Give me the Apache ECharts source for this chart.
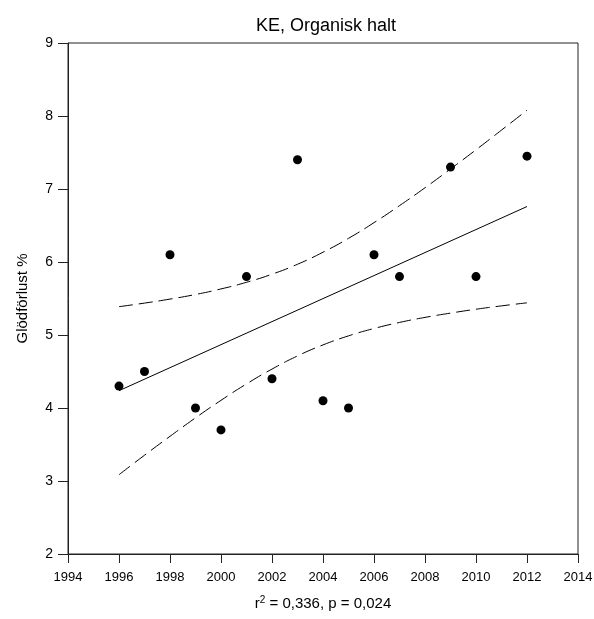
<!DOCTYPE html>
<html>
<head>
<meta charset="utf-8">
<script src="https://cdn.jsdelivr.net/npm/echarts@6/dist/echarts.min.js"></script>
<style>
  html, body { margin: 0; padding: 0; background: #fff; }
  #chart { width: 594px; height: 619px; }
</style>
</head>
<body>
<div id="chart"></div>
<script>
// Observations: loss on ignition (%) per sampling year
const years = [1996, 1997, 1998, 1999, 2000, 2001, 2002, 2003, 2004, 2005, 2006, 2007, 2009, 2010, 2012];
const values = [4.3, 4.5, 6.1, 4.0, 3.7, 5.8, 4.4, 7.4, 4.1, 4.0, 6.1, 5.8, 7.3, 5.8, 7.45];

// Linear trend end points
const fitYears = [1996, 2012];
const fitValues = [4.237, 6.760];

// 95 % confidence band of the trend
const bandYears = [1996, 1997, 1998, 1999, 2000, 2001, 2002, 2003, 2004, 2005, 2006, 2007, 2008, 2009, 2010, 2011, 2012];
const bandUpper = [5.388, 5.437, 5.492, 5.555, 5.631, 5.722, 5.833, 5.969, 6.134, 6.324, 6.539, 6.772, 7.017, 7.274, 7.537, 7.807, 8.079];
const bandLower = [3.086, 3.353, 3.612, 3.865, 4.105, 4.330, 4.533, 4.713, 4.864, 4.988, 5.089, 5.172, 5.241, 5.300, 5.353, 5.399, 5.441];

const titleText = 'KE, Organisk halt';
const yName = 'Glödförlust %';
const r2 = '0,336';
const pValue = '0,024';

const zip = (xs, ys) => xs.map((x, i) => [x, ys[i]]);
const font = 'Liberation Sans, Arial, sans-serif';
const ink = '#000';

const chart = echarts.init(document.getElementById('chart'), null, { renderer: 'canvas' });
chart.setOption({
  animation: false,
  backgroundColor: '#fff',
  title: {
    text: titleText,
    left: 321, top: 12, textAlign: 'center',
    textStyle: { fontFamily: font, fontSize: 18, fontWeight: 'normal', color: ink }
  },
  grid: {
    left: 68, right: 16, top: 43, bottom: 65,
    containLabel: false, outerBoundsMode: 'none',
    show: true, borderColor: '#222', borderWidth: 1, backgroundColor: 'transparent'
  },
  xAxis: {
    type: 'value', min: 1994, max: 2014, interval: 2,
    name: '{t|r}{s|2}{t| = ' + r2 + ', p = ' + pValue + '}',
    nameLocation: 'middle', nameGap: 41,
    nameTextStyle: {
      rich: {
        t: { fontFamily: font, fontSize: 15, color: ink },
        s: { fontFamily: font, fontSize: 10, color: ink, verticalAlign: 'top', padding: [0, 0, 8, 0] }
      }
    },
    splitLine: { show: false },
    axisLine: { lineStyle: { color: '#222', width: 1 } },
    axisTick: { inside: false, length: 9, lineStyle: { color: '#222' } },
    axisLabel: { fontFamily: font, fontSize: 13, color: ink, margin: 17, formatter: v => String(v) }
  },
  yAxis: {
    type: 'value', min: 2, max: 9, interval: 1,
    name: yName, nameLocation: 'middle', nameGap: 38, nameRotate: 90,
    nameTextStyle: { fontFamily: font, fontSize: 15, color: ink },
    splitLine: { show: false },
    axisLine: { lineStyle: { color: '#222', width: 1 } },
    axisTick: { inside: false, length: 10, lineStyle: { color: '#222' } },
    axisLabel: { fontFamily: font, fontSize: 14, color: ink, margin: 15 }
  },
  series: [
    {
      type: 'line', data: zip(bandYears, bandUpper), smooth: true, symbol: 'none',
      lineStyle: { color: ink, width: 1, type: [14, 6] }
    },
    {
      type: 'line', data: zip(bandYears, bandLower), smooth: true, symbol: 'none',
      lineStyle: { color: ink, width: 1, type: [14, 6] }
    },
    {
      type: 'line', data: zip(fitYears, fitValues), symbol: 'none',
      lineStyle: { color: ink, width: 1 }
    },
    {
      type: 'scatter', data: zip(years, values), symbol: 'circle', symbolSize: 9,
      itemStyle: { color: ink, opacity: 1 }
    }
  ]
});
</script>
</body>
</html>
